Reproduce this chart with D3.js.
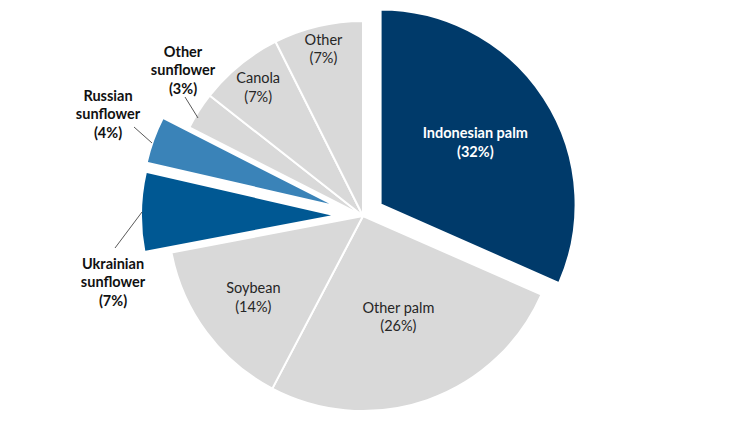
<!DOCTYPE html>
<html><head><meta charset="utf-8">
<script src="https://cdn.jsdelivr.net/npm/d3@7"></script>
<style>html,body{margin:0;padding:0;background:#fff;}svg{display:block;}</style>
</head><body>
<svg id="chart" width="750" height="422"></svg>
<script>
// Data (shares in %; labels show rounded values)
const categories = ["Indonesian palm","Other palm","Soybean","Ukrainian sunflower","Russian sunflower","Other sunflower","Canola","Other"];
const values = [31.6, 26.1, 14.3, 6.6, 3.9, 3.1, 7.0, 7.4];
const nameLines = [["Indonesian palm"],["Other palm"],["Soybean"],["Ukrainian","sunflower"],["Russian","sunflower"],["Other","sunflower"],["Canola"],["Other"]];

// Styling / layout
const colors = ["#003a6a","#d9d9d9","#d9d9d9","#005893","#3a83b8","#d9d9d9","#d9d9d9","#d9d9d9"];
const explode = [21, 0, 0, 27, 28, 0, 0, 0];
const labelRadiusFrac = [0.58, 0.55, 0.70, null, null, null, 0.85, 0.88];
const boldLabel = [true,false,false,true,true,true,false,false];
const cx = 363, cy = 216, R = 195;

const svg = d3.select("#chart");
const g = svg.append("g").attr("transform", `translate(${cx},${cy})`);
const pie = d3.pie().sort(null).value(d => d).startAngle(0).endAngle(2*Math.PI);
const arcs = pie(values);
const arc = d3.arc().innerRadius(0).outerRadius(R);

function offset(d, i) {
  const m = (d.startAngle + d.endAngle) / 2;
  return [explode[i] * Math.sin(m), -explode[i] * Math.cos(m)];
}

g.selectAll("path.slice").data(arcs).enter().append("path")
  .attr("class","slice")
  .attr("d", arc)
  .attr("transform", (d,i) => { const o = offset(d,i); return `translate(${o[0]},${o[1]})`; })
  .attr("fill", (d,i) => colors[i])
  .attr("stroke", "#fff").attr("stroke-width", 2).attr("stroke-linejoin","round");

// Outside labels with leader lines (positions relative to pie centre)
const outside = {
  3: {pos: [-250, 66], line: [[-248, 32], [-221, -4]]},
  4: {pos: [-255, -102], line: [[-229, -89], [-211, -73]]},
  5: {pos: [-180, -146], line: [[-178, -119], [-165, -98]]}
};

const lineH = 18.5;
arcs.forEach((d, i) => {
  let x, y;
  if (outside[i]) {
    [x, y] = outside[i].pos;
    g.append("line")
      .attr("x1", outside[i].line[0][0]).attr("y1", outside[i].line[0][1])
      .attr("x2", outside[i].line[1][0]).attr("y2", outside[i].line[1][1])
      .attr("stroke", "#595959").attr("stroke-width", 1);
  } else {
    const o = offset(d, i);
    const r = R * labelRadiusFrac[i];
    const c = d3.arc().innerRadius(r).outerRadius(r).centroid(d);
    x = c[0] + o[0]; y = c[1] + o[1];
  }
  const lines = nameLines[i].concat([`(${Math.round(values[i])}%)`]);
  const t = g.append("text")
    .attr("text-anchor", "middle")
    .attr("font-family", "Lato, 'Open Sans', sans-serif")
    .attr("font-size", 14.5)
    .attr("font-weight", boldLabel[i] ? 700 : 400)
    .attr("fill", i === 0 ? "#fff" : (boldLabel[i] ? "#111" : "#262626"));
  const y0 = y - (lines.length - 1) * lineH / 2 + 5;
  lines.forEach((s, k) => {
    t.append("tspan").attr("x", x).attr("y", y0 + k * lineH).text(s);
  });
});
</script>
</body></html>
